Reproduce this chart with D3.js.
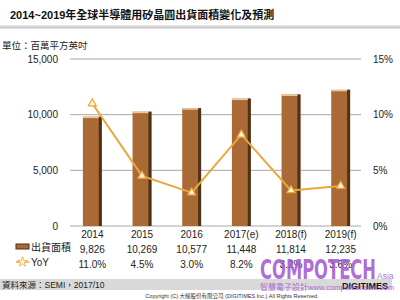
<!DOCTYPE html>
<html>
<head>
<meta charset="utf-8">
<script src="https://cdn.jsdelivr.net/npm/d3@7"></script>
<style>
  body { margin: 0; background: #fff; }
  svg { display: block; font-family: Arial, 'Liberation Sans', 'Noto Sans CJK TC', sans-serif; }
</style>
</head>
<body>
<div id="chart-area"></div>
<script>
'use strict';

let years = ['2014', '2015', '2016', '2017(e)', '2018(f)', '2019(f)'];
let area = [9826, 10269, 10577, 11448, 11814, 12235];
let yoy = [11.0, 4.5, 3.0, 8.2, 3.2, 3.6];
let leftTicks = [0, 5000, 10000, 15000];
let rightTicks = [0, 5, 10, 15];

let W = 400, H = 300;
let margin = { left: 68, right: 35, top: 59, bottom: 74 };
let w = W - margin.left - margin.right;
let h = H - margin.top - margin.bottom;

let svg = d3.select('#chart-area').append('svg')
    .attr('width', W)
    .attr('height', H);

// title + separator
svg.append('text')
    .attr('x', 10).attr('y', 19)
    .attr('font-size', '11px').attr('font-weight', 'bold').attr('fill', '#111')
    .text('2014~2019年全球半導體用矽晶圓出貨面積變化及預測');

let grad = svg.append('defs').append('linearGradient')
    .attr('id', 'sep').attr('x1', 0).attr('x2', 0).attr('y1', 0).attr('y2', 1);
grad.append('stop').attr('offset', '0%').attr('stop-color', '#f2f2f2');
grad.append('stop').attr('offset', '60%').attr('stop-color', '#c8c8c8');
grad.append('stop').attr('offset', '100%').attr('stop-color', '#ececec');
svg.append('rect').attr('x', 0).attr('y', 25).attr('width', W).attr('height', 4)
    .attr('fill', 'url(#sep)');

svg.append('text')
    .attr('x', 2).attr('y', 49)
    .attr('font-size', '9.5px').attr('fill', '#222')
    .text('單位：百萬平方英吋');

let g = svg.append('g')
    .attr('transform', 'translate(' + margin.left + ',' + margin.top + ')');

let x = d3.scaleBand()
    .domain(years)
    .range([0, w])
    .paddingInner(0.62)
    .paddingOuter(0.3);

let y = d3.scaleLinear()
    .domain([0, 15000])
    .range([h, 0]);

let y2 = d3.scaleLinear()
    .domain([0, 15])
    .range([h, 0]);

// gridlines
g.append('g')
    .selectAll('line')
    .data(leftTicks)
    .enter()
    .append('line')
        .attr('x1', 2).attr('x2', w - 4)
        .attr('y1', d => y(d)).attr('y2', d => y(d))
        .attr('stroke', '#a8a8a8').attr('stroke-width', 1);

let y_axis = d3.axisLeft(y)
    .tickValues(leftTicks)
    .tickSize(0)
    .tickPadding(10)
    .tickFormat(d3.format(','));
g.append('g')
    .attr('class', 'y_axis')
    .call(y_axis)
    .call(s => s.select('.domain').remove())
    .selectAll('text')
        .attr('font-size', '10px').attr('fill', '#222');

let y2_axis = d3.axisRight(y2)
    .tickValues(rightTicks)
    .tickSize(0)
    .tickPadding(8)
    .tickFormat(d => d + '%');
g.append('g')
    .attr('class', 'y2_axis')
    .attr('transform', 'translate(' + w + ',0)')
    .call(y2_axis)
    .call(s => s.select('.domain').remove())
    .selectAll('text')
        .attr('font-size', '10px').attr('fill', '#222');

// bars
let bars = g.selectAll('.bar')
    .data(area)
    .enter()
    .append('g')
        .attr('class', 'bar');

bars.append('rect')
    .attr('x', (d, i) => x(years[i]))
    .attr('y', d => y(d))
    .attr('width', x.bandwidth())
    .attr('height', d => h - y(d))
    .attr('fill', '#a96a36');
bars.append('rect')
    .attr('x', (d, i) => x(years[i]) + x.bandwidth() - 3)
    .attr('y', d => y(d))
    .attr('width', 3)
    .attr('height', d => h - y(d))
    .attr('fill', '#4e3119');
bars.append('rect')
    .attr('x', (d, i) => x(years[i]))
    .attr('y', d => y(d))
    .attr('width', x.bandwidth() - 3)
    .attr('height', 1.5)
    .attr('fill', '#f0c9a0');

// yoy line
let cx = i => x(years[i]) + x.bandwidth() / 2;
let line = d3.line()
    .x((d, i) => cx(i))
    .y(d => y2(d));
g.append('path')
    .datum(yoy)
    .attr('d', line)
    .attr('fill', 'none')
    .attr('stroke', '#eaa73a')
    .attr('stroke-width', 2);

let tri = d3.symbol().type(d3.symbolTriangle).size(28);
g.selectAll('.mk')
    .data(yoy)
    .enter()
    .append('path')
        .attr('class', 'mk')
        .attr('d', tri)
        .attr('transform', (d, i) => 'translate(' + cx(i) + ',' + y2(d) + ')')
        .attr('fill', '#fff6dc')
        .attr('stroke', '#eaa73a')
        .attr('stroke-width', 1.2);

// table under axis
g.selectAll('.yr')
    .data(years)
    .enter()
    .append('text')
        .attr('x', (d, i) => cx(i))
        .attr('y', h + 12)
        .attr('text-anchor', 'middle')
        .attr('font-size', '10px').attr('fill', '#222')
        .text(d => d);

g.selectAll('.val')
    .data(area)
    .enter()
    .append('text')
        .attr('x', (d, i) => cx(i))
        .attr('y', h + 27)
        .attr('text-anchor', 'middle')
        .attr('font-size', '10px').attr('fill', '#222')
        .text(d => d3.format(',')(d));

g.selectAll('.yy')
    .data(yoy)
    .enter()
    .append('text')
        .attr('x', (d, i) => cx(i))
        .attr('y', h + 42)
        .attr('text-anchor', 'middle')
        .attr('font-size', '10px').attr('fill', '#222')
        .text(d => d.toFixed(1) + '%');

// row legends
svg.append('rect').attr('x', 16).attr('y', 244).attr('width', 13).attr('height', 5)
    .attr('fill', '#a96a36').attr('stroke', '#4e3119').attr('stroke-width', 1);
svg.append('text').attr('x', 31).attr('y', 251)
    .attr('font-size', '10px').attr('fill', '#222').text('出貨面積');
svg.append('line').attr('x1', 16).attr('x2', 29).attr('y1', 262).attr('y2', 262)
    .attr('stroke', '#eaa73a').attr('stroke-width', 1.5);
svg.append('path').attr('d', d3.symbol().type(d3.symbolStar).size(30))
    .attr('transform', 'translate(22.5,262)')
    .attr('fill', '#fff6dc').attr('stroke', '#eaa73a').attr('stroke-width', 0.8);
svg.append('text').attr('x', 31).attr('y', 266)
    .attr('font-size', '10px').attr('fill', '#222').text('YoY');

// footer
svg.append('rect').attr('x', 0).attr('y', 279).attr('width', 392).attr('height', 11)
    .attr('fill', '#d9d9d9');
svg.append('text').attr('x', 2).attr('y', 288)
    .attr('font-size', '8.5px').attr('fill', '#222').text('資料來源：SEMI，2017/10');
svg.append('text').attr('x', 388).attr('y', 289)
    .attr('text-anchor', 'end')
    .attr('font-size', '9px').attr('font-weight', 'bold').attr('fill', '#111')
    .text('DIGITIMES');
svg.append('text').attr('x', 232).attr('y', 298)
    .attr('text-anchor', 'middle')
    .attr('font-size', '5.5px').attr('fill', '#333')
    .text('Copyright (C) 大椽股份有限公司 (DIGITIMES Inc.) All Rights Reserved.');

// watermark
let wm = '#a55bd2';
svg.append('text').attr('x', 260).attr('y', 279)
    .attr('font-size', '26px').attr('font-weight', 'bold')
    .attr('fill', wm).attr('fill-opacity', 0.9)
    .attr('font-family', "'DejaVu Sans Condensed', 'Liberation Sans Narrow', sans-serif")
    .attr('textLength', 116).attr('lengthAdjust', 'spacingAndGlyphs')
    .text('COMPOTECH');
svg.append('text').attr('x', 377).attr('y', 279)
    .attr('font-size', '8.5px').attr('fill', wm).attr('fill-opacity', 0.9)
    .text('Asia');
svg.append('text').attr('x', 260).attr('y', 290)
    .attr('font-size', '8px').attr('fill', wm).attr('fill-opacity', 0.9)
    .text('智慧電子設計');
svg.append('text').attr('x', 308).attr('y', 290)
    .attr('font-size', '7.5px').attr('fill', wm).attr('fill-opacity', 0.9)
    .attr('textLength', 86).attr('lengthAdjust', 'spacingAndGlyphs')
    .text('www.compotechasia.com');
</script>
</body>
</html>
